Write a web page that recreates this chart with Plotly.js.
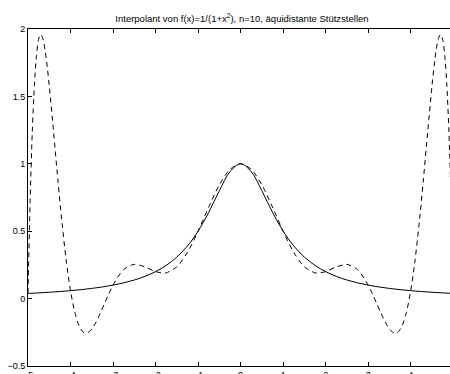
<!DOCTYPE html>
<html>
<head>
<meta charset="utf-8">
<script src="https://cdn.plot.ly/plotly-3.0.1.min.js"></script>
<style>html,body{margin:0;padding:0;background:#fff;}#chart{width:450px;height:374px;}</style>
</head>
<body>
<div id="chart"></div>
<script>
// f(x) = 1/(1+x^2)
var fX = [-5,-4.75,-4.5,-4.25,-4,-3.75,-3.5,-3.25,-3,-2.75,-2.5,-2.25,-2,-1.75,-1.5,-1.25,-1,-0.75,-0.5,-0.25,0,
          0.25,0.5,0.75,1,1.25,1.5,1.75,2,2.25,2.5,2.75,3,3.25,3.5,3.75,4,4.25,4.5,4.75,5];
var fY = [0.0385,0.0424,0.0471,0.0525,0.0588,0.0664,0.0755,0.0865,0.1,0.1168,0.1379,0.1649,0.2,0.2462,0.3077,0.3902,0.5,0.64,0.8,0.9412,1,
          0.9412,0.8,0.64,0.5,0.3902,0.3077,0.2462,0.2,0.1649,0.1379,0.1168,0.1,0.0865,0.0755,0.0664,0.0588,0.0525,0.0471,0.0424,0.0385];

// interpolating polynomial, values
var pX = [-5,-4.95,-4.9,-4.85,-4.8,-4.75,-4.7,-4.65,-4.6,-4.55,-4.5,-4.4,-4.3,-4.2,-4.1,-4,-3.9,-3.8,-3.7,-3.65,-3.6,-3.5,-3.4,-3.3,-3.2,-3.1,-3,
          -2.75,-2.5,-2.25,-2,-1.8,-1.75,-1.5,-1.25,-1,-0.75,-0.5,-0.25,0,
          0.25,0.5,0.75,1,1.25,1.5,1.75,1.8,2,2.25,2.5,2.75,
          3,3.1,3.2,3.3,3.4,3.5,3.6,3.65,3.7,3.8,3.9,4,4.1,4.2,4.3,4.4,4.5,4.55,4.6,4.65,4.7,4.75,4.8,4.85,4.9,4.95,5];
var pY = [0.0385,0.7261,1.2303,1.581,1.8045,1.924,1.959,1.928,1.846,1.7257,1.5787,1.2402,0.8881,0.5604,0.2802,0.0588,-0.1007,-0.2013,-0.2496,-0.2569,-0.2546,-0.2262,-0.1743,-0.1083,-0.0363,0.0349,0.1,
          0.2156,0.2538,0.2350,0.2,0.1888,0.1906,0.2353,0.3426,0.5,0.6790,0.8434,0.9586,1,
          0.9586,0.8434,0.6790,0.5,0.3426,0.2353,0.1906,0.1888,0.2,0.2350,0.2538,0.2156,
          0.1,0.0349,-0.0363,-0.1083,-0.1743,-0.2262,-0.2546,-0.2569,-0.2496,-0.2013,-0.1007,0.0588,0.2802,0.5604,0.8881,1.2402,1.5787,1.7257,1.846,1.928,1.959,1.924,1.8045,1.581,1.2303,0.7261,0.0385];

var xTicks = [-5,-4,-3,-2,-1,0,1,2,3,4,5];
var yTicks = [-0.5,0,0.5,1,1.5,2];
var yTickText = ['\u22120.5','0','0.5','1','1.5','2'];
var xTickText = ['\u22125','\u22124','\u22123','\u22122','\u22121','0','1','2','3','4','5'];

var traces = [
  {x: fX, y: fY, type: 'scatter', mode: 'lines', line: {color: '#000', width: 1, shape: 'spline'}, hoverinfo: 'skip'},
  {x: pX, y: pY, type: 'scatter', mode: 'lines', line: {color: '#000', width: 1, dash: '5px,4px', shape: 'spline', smoothing: 0.8}, hoverinfo: 'skip'}
];

var layout = {
  width: 450, height: 374,
  margin: {l: 28, r: 0, t: 29, b: 8, pad: 0},
  paper_bgcolor: '#fff', plot_bgcolor: '#fff',
  showlegend: false,
  font: {family: 'Liberation Sans, Arial, sans-serif', size: 9, color: '#000'},
  title: {text: 'Interpolant von f(x)=1/(1+x<sup>2</sup>), n=10, äquidistante Stützstellen',
          font: {size: 9.5, color: '#000', family: 'Liberation Sans, Arial, sans-serif'},
          x: 0.507, xref: 'paper', xanchor: 'center', y: 1, yref: 'paper', yanchor: 'bottom', pad: {b: 7}},
  xaxis: {range: [-5, 4.924], tickmode: 'array', tickvals: xTicks, ticktext: xTickText,
          showgrid: false, zeroline: false, showline: true, linecolor: '#000', linewidth: 1,
          mirror: 'ticks', ticks: 'inside', ticklen: 4, tickcolor: '#000', tickwidth: 1,
          tickfont: {size: 9}},
  yaxis: {range: [-0.5, 2], tickmode: 'array', tickvals: yTicks, ticktext: yTickText,
          showgrid: false, zeroline: false, showline: true, linecolor: '#000', linewidth: 1,
          ticks: 'inside', ticklen: 4, tickcolor: '#000', tickwidth: 1,
          tickfont: {size: 9}}
};

Plotly.newPlot('chart', traces, layout, {staticPlot: true, displayModeBar: false});
</script>
</body>
</html>
